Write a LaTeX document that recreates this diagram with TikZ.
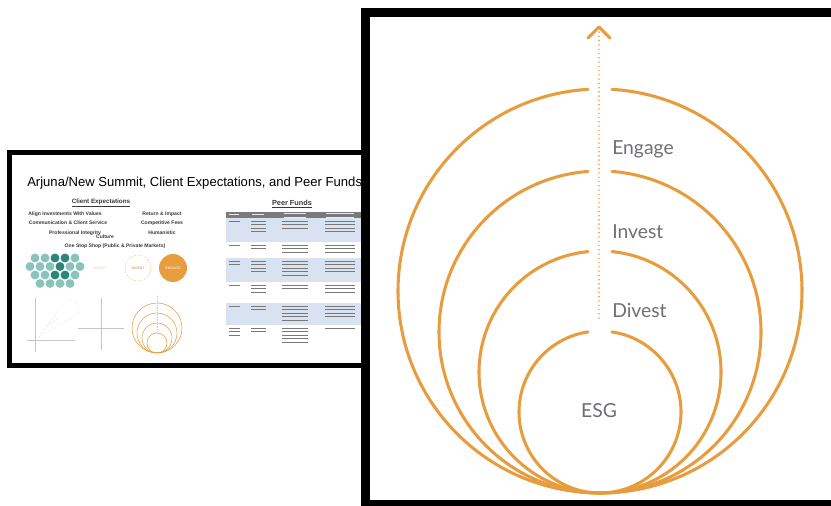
\documentclass[tikz,border=0pt]{standalone}
\usepackage{fontspec}
\setmainfont{Liberation Sans}
\newfontfamily\ringfont{Lato}
\usetikzlibrary{positioning}

\definecolor{esgorange}{RGB}{231,157,62}
\definecolor{esggray}{RGB}{110,111,116}
\definecolor{tealdark}{RGB}{44,132,122}
\definecolor{teallight}{RGB}{138,195,188}
\definecolor{rowblue}{RGB}{216,226,240}
\definecolor{headgray}{RGB}{122,122,122}
\definecolor{bargray}{RGB}{120,120,120}

% blurred table text, drawn as short lines %
\newcommand{\cellbars}[5][bargray]{%
	\foreach \k in {1,...,#4}
		\fill[#1] ({#2-#5/2},{#3+(\k-1)*3.4}) rectangle ++(#5,1);}

\begin{document}
\begin{tikzpicture}[x=0.75pt,y=-0.75pt,
	ring/.style={draw=esgorange, line width=2.3pt, line cap=round},
	ringlabel/.style={inner sep=0, text=esggray, font=\ringfont\fontsize{14.5}{17}\selectfont},
	slidetext/.style={inner sep=0, text=black!78, font=\fontsize{3.8}{4.5}\selectfont\bfseries},
	faint/.style={draw=gray!45, line width=0.3pt},
	tiny/.style={inner sep=0, font=\fontsize{2.6}{3}\selectfont}]

	\useasboundingbox (0,0) rectangle (831,506);
	\clip (0,0) rectangle (831,506);

	% Slide frame %
	\draw[line width=4.1pt] (9.75,152.75) rectangle (380,365.25);
	\node (title) [inner sep=0, anchor=west, font=\fontsize{9.8}{11}\selectfont] at (27,183) {Arjuna/New Summit, Client Expectations, and Peer Funds};

	% Client Expectations %
	\node (cehead) [slidetext, font=\fontsize{4.7}{5.5}\selectfont\bfseries] at (101,203) {\underline{Client Expectations}};
	\node (values) [slidetext] at (65,214) {Align Investments With Values};
	\node (impact) [slidetext] at (162,214) {Return \& Impact};
	\node (service) [slidetext] at (68,223) {Communication \& Client Service};
	\node (fees) [slidetext] at (162,223) {Competitive Fees};
	\node (integrity) [slidetext] at (75,233) {Professional Integrity};
	\node (culture) [slidetext] at (105,237) {Culture};
	\node (humanistic) [slidetext] at (162,233) {Humanistic};
	\node (oneshop) [slidetext] at (115,246) {One Stop Shop (Public \& Private Markets)};

	% Teal cluster %
	\foreach \cx/\cy/\c in {35/258/teallight, 45/258/teallight, 55/258/tealdark, 65/258/tealdark, 75/258/teallight,
		30/266.5/teallight, 40/266.5/teallight, 50/266.5/teallight, 60/266.5/tealdark, 70/266.5/teallight, 80/266.5/teallight,
		35/275/teallight, 45/275/teallight, 55/275/tealdark, 65/275/tealdark, 75/275/teallight,
		40/283.5/teallight, 50/283.5/teallight, 60/283.5/teallight, 70/283.5/teallight}
		\filldraw[fill=\c, draw=white, line width=0.3pt] (\cx,\cy) circle (4.8);
	% Divest / Invest / Engage %
	\node (sdivest) [tiny, text=esgorange!55] at (100,268) {DIVEST};
	\node (sinvest) [tiny, text=esgorange!80!black, circle, draw=esgorange, densely dotted, minimum size=26*0.75pt] at (138,268) {INVEST};
	\node (sengage) [tiny, text=white, circle, fill=esgorange, minimum size=28*0.75pt] at (173,268) {ENGAGE};

	% Small charts %
	\draw[faint] (35,298) -- (35,352);
	\draw[faint] (27,340) -- (75,340);
	\draw[faint, densely dotted] (38,338) -- (64,303) arc (-135:30:9) -- cycle;
	\draw[faint, densely dotted] (45,328) -- (58,318);
	\draw[faint] (101,298) -- (101,350);
	\draw[faint] (78,328) -- (124,328);
	\foreach \r in {25,20,15,10}
		\draw[esgorange, line width=0.4pt] (157,353-\r) circle (\r);
	\draw[esgorange!60, densely dotted, line width=0.3pt] (157,333) -- (157,295);

	% Peer Funds table %
	\node (pfhead) [slidetext, font=\fontsize{5.5}{6}\selectfont\bfseries] at (292,204) {\underline{Peer Funds}};
	\fill[headgray] (226,212) rectangle (362,219);
	\foreach \ya/\yb in {218/242, 258/282, 303/325}
		\fill[rowblue] (226,\ya) rectangle (362,\yb);
	\cellbars[white!85!gray]{234}{213.5}{1}{10}
	\cellbars[white!85!gray]{258}{213.5}{1}{12}
	\cellbars[white!85!gray]{295}{213.2}{2}{22}
	\cellbars[white!85!gray]{340}{213.2}{2}{28}
	\foreach \top/\a/\b/\c/\d in {218/1/4/3/4, 242/1/2/3/3, 258/2/4/5/4, 282/1/3/2/3, 303/1/2/5/4, 325/3/2/5/1} {
		\cellbars{234}{\top+3}{\a}{11}
		\cellbars{258}{\top+3}{\b}{15}
		\cellbars{295}{\top+3}{\c}{26}
		\cellbars{340}{\top+3}{\d}{30}
	}

	% Panel frame %
	\fill[black] (361,8) rectangle (900,520);
	\fill[white] (370,17) rectangle (900,500);

	% Rings %
	\foreach \r in {202,161,121,81} {
		\pgfmathsetmacro\d{asin(12/\r)}
		\draw[ring] ({600+\r*sin(\d)},{493-\r-\r*cos(\d)}) arc ({-90+\d}:{270-\d}:\r);
	}

	% Arrow %
	\coordinate (arrowtip) at (599,27);
	\coordinate (arrowbase) at (599,318);
	\draw[esgorange!85, line width=1.4pt, line cap=round, dash pattern=on 0pt off 3.2pt] (arrowbase) -- ([yshift=-3*0.75pt]arrowtip);
	\draw[ring, line join=round] ([shift={(-11,11)}]arrowtip) -- (arrowtip) -- ([shift={(11,11)}]arrowtip);

	% Labels %
	\node (engage) [ringlabel, anchor=base west] at (612,155) {Engage};
	\node (invest) [ringlabel, anchor=base west] at (612,238) {Invest};
	\node (divest) [ringlabel, anchor=base west] at (612,317) {Divest};
	\node (esg) [ringlabel, anchor=base] at (599,417) {ESG};
\end{tikzpicture}
\end{document}
